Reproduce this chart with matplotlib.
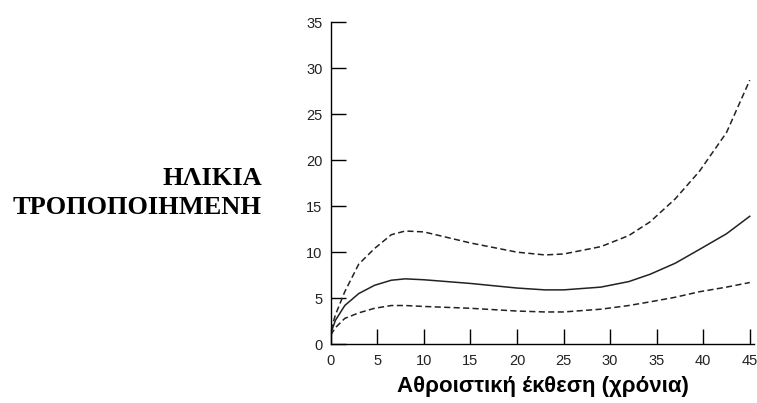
import matplotlib.pyplot as plt
import numpy as np

# values
exposure = [0, 0.5, 1.5, 3, 4.7, 6.5, 8, 10, 15, 20, 23, 25, 29, 32, 34.3, 37, 39.6, 42.5, 45]
age_mid = [1.2, 2.6, 4.2, 5.5, 6.4, 6.95, 7.1, 7.0, 6.6, 6.1, 5.9, 5.9, 6.2, 6.8, 7.6, 8.8, 10.3, 12.0, 13.9]
age_upper = [1.5, 3.2, 5.7, 8.7, 10.4, 11.9, 12.3, 12.2, 11.0, 10.0, 9.7, 9.8, 10.6, 11.8, 13.3, 15.8, 18.8, 23.0, 28.7]
age_lower = [1.0, 1.8, 2.8, 3.4, 3.9, 4.2, 4.2, 4.1, 3.9, 3.6, 3.5, 3.5, 3.8, 4.2, 4.6, 5.1, 5.7, 6.2, 6.7]

x_ticks = [0, 5, 10, 15, 20, 25, 30, 35, 40, 45]
y_ticks = [0, 5, 10, 15, 20, 25, 30, 35]

fig = plt.figure(figsize=(7.57, 4.03), dpi=100)
ax = fig.add_axes([0.437, 0.146, 0.5596, 0.799])

dash = (4, 2.2)
ax.plot(exposure, age_mid, color='#222222', lw=1.1)
ax.plot(exposure, age_upper, color='#222222', lw=1.1, dashes=dash)
ax.plot(exposure, age_lower, color='#222222', lw=1.1, dashes=dash)

ax.set_xlim(0, 45.5)
ax.set_ylim(0, 35)
ax.set_xticks(x_ticks)
ax.set_yticks(y_ticks)

for s in ['top', 'right']:
    ax.spines[s].set_visible(False)
for s in ['left', 'bottom']:
    ax.spines[s].set_linewidth(1.0)

ax.tick_params(direction='in', length=11, width=1.0, labelsize=10.5,
               labelcolor='#222222', labelfontfamily='Liberation Sans')
ax.tick_params(axis='x', pad=7)
ax.tick_params(axis='y', pad=6)

ax.set_xlabel('Αθροιστική έκθεση (χρόνια)', fontsize=16, fontweight='bold',
              family='Liberation Sans', labelpad=6)

# two-line y label, right aligned, left of the axis
fig.text(0.346, 0.541, 'ΗΛΙΚΙΑ', ha='right', va='baseline',
         fontsize=19, fontweight='bold', family='Liberation Serif')
fig.text(0.346, 0.469, 'ΤΡΟΠΟΠΟΙΗΜΕΝΗ', ha='right', va='baseline',
         fontsize=19, fontweight='bold', family='Liberation Serif')

fig.savefig('out.png', dpi=100)
